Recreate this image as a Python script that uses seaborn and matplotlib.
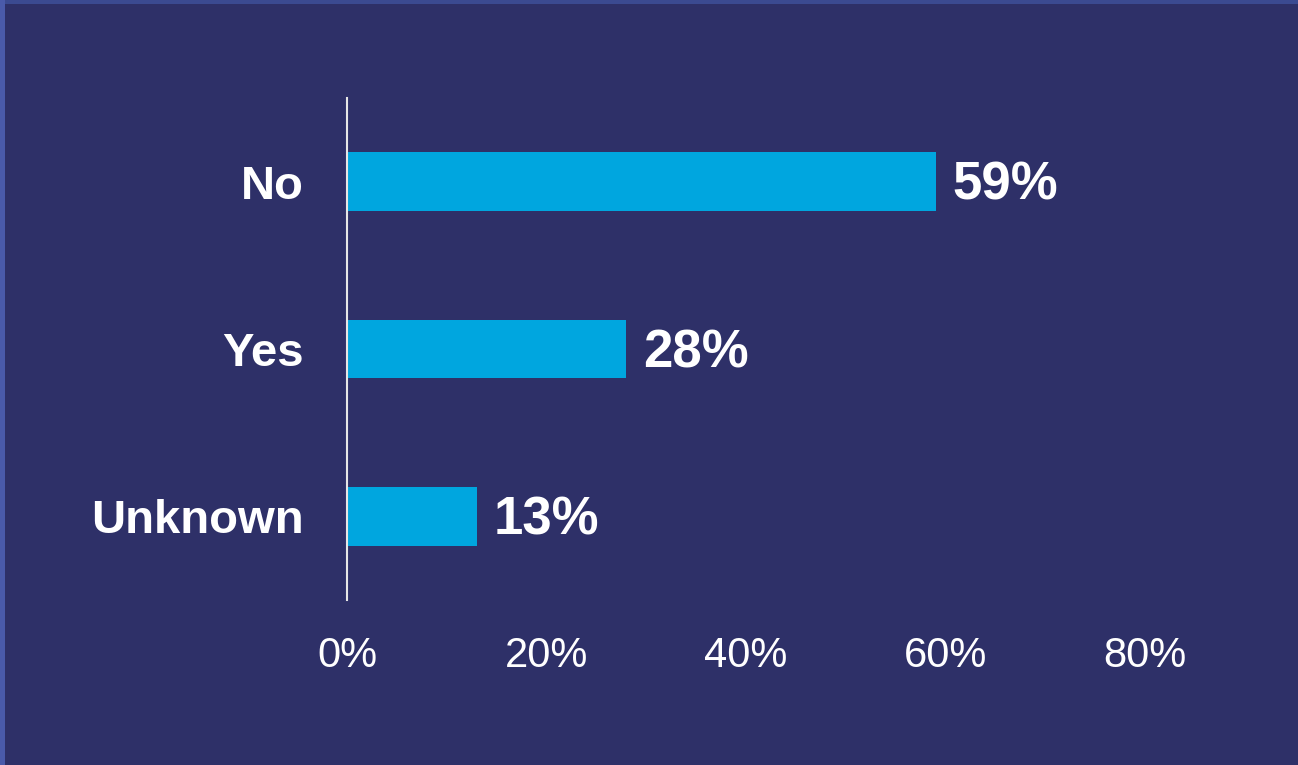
import matplotlib
matplotlib.use("Agg")
import matplotlib.pyplot as plt
import seaborn as sns
import pandas as pd
from matplotlib.patches import Rectangle

categories = ["No", "Yes", "Unknown"]
shares = [59, 28, 13]
x_ticks = [0, 20, 40, 60, 80]
x_tick_labels = ["0%", "20%", "40%", "60%", "80%"]

BG = "#2e3068"
BAR = "#00a6df"

sns.set_theme(style="white")
plt.rcParams["font.family"] = ["Liberation Sans", "DejaVu Sans"]

df = pd.DataFrame({"category": categories, "share": shares})

fig = plt.figure(figsize=(12.98, 7.65), dpi=100, facecolor=BG)
ax = fig.add_axes([347 / 1298, 1 - 600 / 765, (1145 - 347) / 1298, 502 / 765])
ax.set_facecolor(BG)

sns.barplot(data=df, x="share", y="category", order=categories, color=BAR,
            width=0.35, saturation=1, orient="h", linewidth=0, ax=ax)

ax.set_xlim(0, 80)
ax.set_ylim(2.5, -0.5)
ax.set_xticks(x_ticks)
ax.set_xticklabels(x_tick_labels, fontsize=30, color="white")
ax.set_yticks(range(len(categories)))
ax.set_yticklabels(categories, fontsize=34, fontweight="bold", color="white")
ax.tick_params(axis="x", length=0, pad=26)
ax.tick_params(axis="y", length=0, pad=31)
ax.set_xlabel("")
ax.set_ylabel("")

for side in ["top", "right", "bottom"]:
    ax.spines[side].set_visible(False)
ax.spines["left"].set_color("#e6e6e6")
ax.spines["left"].set_linewidth(1.5)

for i, v in enumerate(shares):
    ax.annotate(f"{v}%", xy=(v, i), xytext=(12, -13), textcoords="offset points",
                ha="left", va="baseline", fontsize=38, fontweight="bold", color="white")

# frame strips along the top and left edges
fig.patches.append(Rectangle((0, 1 - 4 / 765), 1, 4 / 765, transform=fig.transFigure,
                             facecolor="#3b4a91", edgecolor="none"))
fig.patches.append(Rectangle((0, 0), 5 / 1298, 1, transform=fig.transFigure,
                             facecolor="#4a5aaa", edgecolor="none"))

fig.savefig("out.png", dpi=100, facecolor=BG)
